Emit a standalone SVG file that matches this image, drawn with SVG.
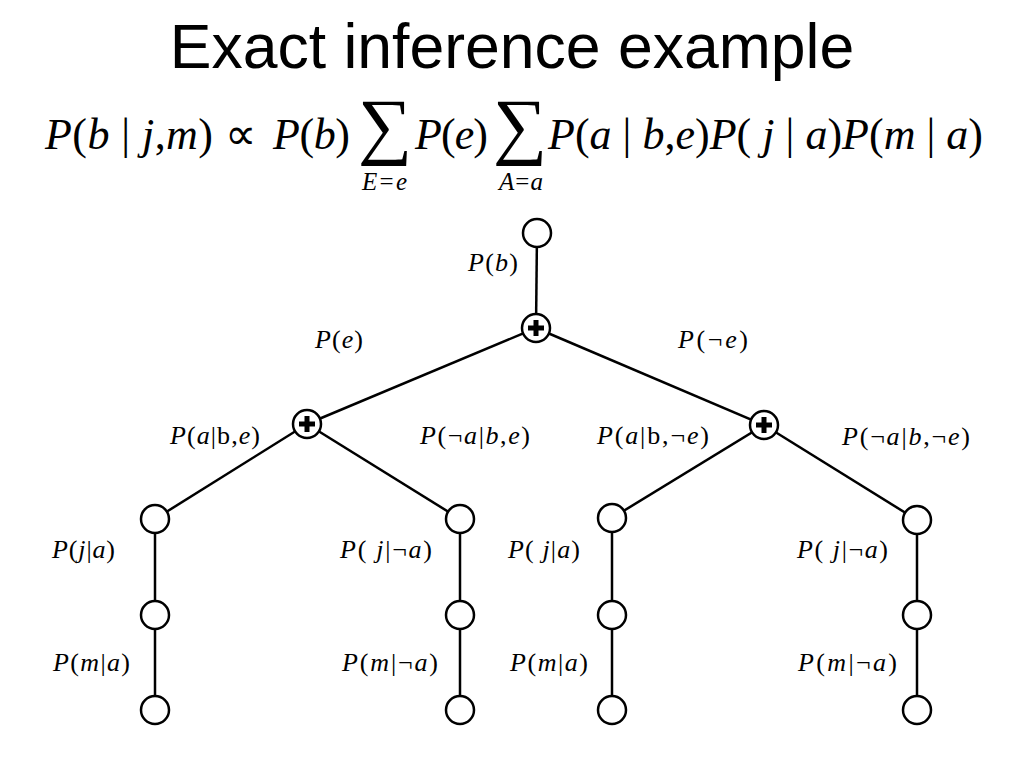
<svg xmlns="http://www.w3.org/2000/svg" width="1024" height="768" viewBox="0 0 1024 768">
<style>
.title{font-family:"Liberation Sans",Arial,sans-serif;font-size:62.5px;fill:#000}
.f{font-family:"Liberation Serif","Times New Roman",serif;font-style:italic;font-size:44px;fill:#000}
.sub{font-family:"Liberation Serif","Times New Roman",serif;font-style:italic;font-size:25px;fill:#000}
.sig{font-family:"Liberation Serif","Times New Roman",serif;font-size:74px;fill:#000}
.lab{font-family:"Liberation Serif","Times New Roman",serif;font-style:italic;font-size:26px;fill:#000}
.u{font-style:normal}
.edge{stroke:#000;stroke-width:2.5;fill:none}
.node{fill:#fff;stroke:#000;stroke-width:2.5}
.plus{stroke:#000;stroke-width:5;fill:none}
</style>
<rect width="1024" height="768" fill="#fff"/>
<text class="title" x="512" y="68" text-anchor="middle">Exact inference example</text>
<g id="formula">
<text class="f" x="45" y="149" textLength="168" lengthAdjust="spacing">P<tspan class="u">(</tspan>b <tspan class="u">|</tspan> j<tspan class="u">,</tspan>m<tspan class="u">)</tspan></text>
<text class="f u" x="225" y="149">∝</text>
<text class="f" x="273" y="149" textLength="77" lengthAdjust="spacing">P<tspan class="u">(</tspan>b<tspan class="u">)</tspan></text>
<text class="sig" transform="translate(358,150) scale(1.03,1)">∑</text>
<text class="sub" x="362" y="190" textLength="45" lengthAdjust="spacing">E<tspan class="u">=</tspan>e</text>
<text class="f" x="415" y="149" textLength="73" lengthAdjust="spacing">P<tspan class="u">(</tspan>e<tspan class="u">)</tspan></text>
<text class="sig" transform="translate(493,150) scale(1.03,1)">∑</text>
<text class="sub" x="499" y="190" textLength="44" lengthAdjust="spacing">A<tspan class="u">=</tspan>a</text>
<text class="f" x="548" y="149" textLength="435" lengthAdjust="spacing">P<tspan class="u">(</tspan>a <tspan class="u">|</tspan> b<tspan class="u">,</tspan>e<tspan class="u">)</tspan>P<tspan class="u">(</tspan> j <tspan class="u">|</tspan> a<tspan class="u">)</tspan>P<tspan class="u">(</tspan>m <tspan class="u">|</tspan> a<tspan class="u">)</tspan></text>
</g>
<g id="connectors">
<line class="edge" x1="537" y1="233" x2="536" y2="328"/>
<line class="edge" x1="536" y1="328" x2="307" y2="424"/>
<line class="edge" x1="536" y1="328" x2="764" y2="425"/>
<line class="edge" x1="307" y1="424" x2="155" y2="519"/>
<line class="edge" x1="307" y1="424" x2="460" y2="519"/>
<line class="edge" x1="764" y1="425" x2="612" y2="518"/>
<line class="edge" x1="764" y1="425" x2="917" y2="520"/>
<line class="edge" x1="155" y1="519" x2="155" y2="710"/>
<line class="edge" x1="460" y1="519" x2="460" y2="710"/>
<line class="edge" x1="612" y1="518" x2="612" y2="710"/>
<line class="edge" x1="917" y1="520" x2="917" y2="710"/>
</g>
<g id="root"><circle class="node" cx="537" cy="233" r="14"/></g>
<g id="sum-top"><circle class="node" cx="536" cy="328" r="14"/><path class="plus" d="M528 328H544M536 320V336"/></g>
<g id="sum-left"><circle class="node" cx="307" cy="424" r="14"/><path class="plus" d="M299 424H315M307 416V432"/></g>
<g id="sum-right"><circle class="node" cx="764" cy="425" r="14"/><path class="plus" d="M756 425H772M764 417V433"/></g>
<g id="n-ll1"><circle class="node" cx="155" cy="519" r="14"/></g>
<g id="n-ll2"><circle class="node" cx="155" cy="615" r="14"/></g>
<g id="n-ll3"><circle class="node" cx="155" cy="710" r="14"/></g>
<g id="n-lr1"><circle class="node" cx="460" cy="519" r="14"/></g>
<g id="n-lr2"><circle class="node" cx="460" cy="615" r="14"/></g>
<g id="n-lr3"><circle class="node" cx="460" cy="710" r="14"/></g>
<g id="n-rl1"><circle class="node" cx="612" cy="518" r="14"/></g>
<g id="n-rl2"><circle class="node" cx="612" cy="615" r="14"/></g>
<g id="n-rl3"><circle class="node" cx="612" cy="710" r="14"/></g>
<g id="n-rr1"><circle class="node" cx="917" cy="520" r="14"/></g>
<g id="n-rr2"><circle class="node" cx="917" cy="615" r="14"/></g>
<g id="n-rr3"><circle class="node" cx="917" cy="710" r="14"/></g>
<g id="labels">
<text class="lab" x="468" y="271" textLength="50" lengthAdjust="spacing">P<tspan class="u">(</tspan>b<tspan class="u">)</tspan></text>
<text class="lab" x="315" y="348" textLength="48" lengthAdjust="spacing">P<tspan class="u">(</tspan>e<tspan class="u">)</tspan></text>
<text class="lab" x="678" y="348" textLength="70" lengthAdjust="spacing">P<tspan class="u">(¬</tspan>e<tspan class="u">)</tspan></text>
<text class="lab" x="170" y="444" textLength="90" lengthAdjust="spacing">P<tspan class="u">(</tspan>a<tspan class="u">|b,</tspan>e<tspan class="u">)</tspan></text>
<text class="lab" x="420" y="444" textLength="110" lengthAdjust="spacing">P<tspan class="u">(¬</tspan>a<tspan class="u">|</tspan>b<tspan class="u">,</tspan>e<tspan class="u">)</tspan></text>
<text class="lab" x="597" y="444" textLength="112" lengthAdjust="spacing">P<tspan class="u">(</tspan>a<tspan class="u">|b,¬</tspan>e<tspan class="u">)</tspan></text>
<text class="lab" x="842" y="445" textLength="128" lengthAdjust="spacing">P<tspan class="u">(¬</tspan>a<tspan class="u">|</tspan>b<tspan class="u">,¬</tspan>e<tspan class="u">)</tspan></text>
<text class="lab" x="52" y="558" textLength="63" lengthAdjust="spacing">P<tspan class="u">(</tspan>j<tspan class="u">|</tspan>a<tspan class="u">)</tspan></text>
<text class="lab" x="53" y="671" textLength="77" lengthAdjust="spacing">P<tspan class="u">(</tspan>m<tspan class="u">|</tspan>a<tspan class="u">)</tspan></text>
<text class="lab" x="340" y="558" textLength="92" lengthAdjust="spacing">P<tspan class="u">( </tspan>j<tspan class="u">|¬</tspan>a<tspan class="u">)</tspan></text>
<text class="lab" x="342" y="671" textLength="96" lengthAdjust="spacing">P<tspan class="u">(</tspan>m<tspan class="u">|¬</tspan>a<tspan class="u">)</tspan></text>
<text class="lab" x="508" y="558" textLength="72" lengthAdjust="spacing">P<tspan class="u">( </tspan>j<tspan class="u">|</tspan>a<tspan class="u">)</tspan></text>
<text class="lab" x="510" y="671" textLength="78" lengthAdjust="spacing">P<tspan class="u">(</tspan>m<tspan class="u">|</tspan>a<tspan class="u">)</tspan></text>
<text class="lab" x="797" y="558" textLength="91" lengthAdjust="spacing">P<tspan class="u">( </tspan>j<tspan class="u">|¬</tspan>a<tspan class="u">)</tspan></text>
<text class="lab" x="798" y="671" textLength="99" lengthAdjust="spacing">P<tspan class="u">(</tspan>m<tspan class="u">|¬</tspan>a<tspan class="u">)</tspan></text>
</g>
</svg>
